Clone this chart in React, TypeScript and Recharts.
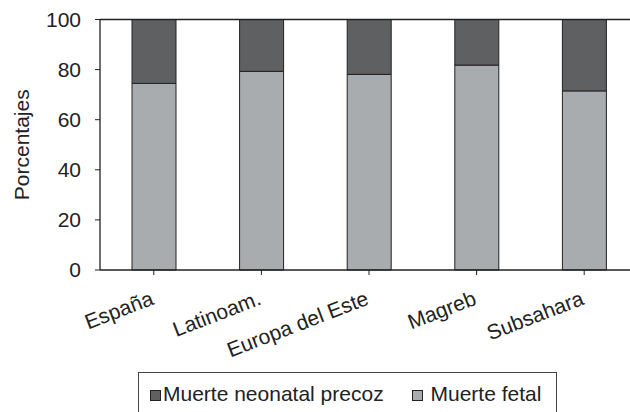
import { Bar, BarChart, Legend, ReferenceLine, XAxis, YAxis } from "recharts"

const regions = ["España", "Latinoam.", "Europa del Este", "Magreb", "Subsahara"]
const muerteFetal = [74.5, 79.3, 78.1, 81.8, 71.5]
const muerteNeonatal = [25.5, 20.7, 21.9, 18.2, 28.5]
const yTicks = [0, 20, 40, 60, 80, 100]

const data = regions.map((region, i) => ({
  region,
  fetal: muerteFetal[i],
  neonatal: muerteNeonatal[i],
}))

const font = "'Liberation Sans', Arial, sans-serif"
const ink = "#222"
const dark = "#5f6062"
const light = "#a9acaf"

// labels sit under the axis, tilted, ending at the tick
function RegionTick({ x, y, payload }: any) {
  return (
    <text
      transform={`translate(${x + 1},${y + 27}) rotate(-21)`}
      textAnchor="end"
      fill={ink}
      fontSize={21}
      fontFamily={font}
    >
      {payload.value}
    </text>
  )
}

function Swatch({ color }: { color: string }) {
  return (
    <span
      style={{
        display: "inline-block",
        boxSizing: "border-box",
        width: 11,
        height: 11,
        background: color,
        border: `1px solid ${ink}`,
        marginRight: 2,
        verticalAlign: "baseline",
      }}
    />
  )
}

function LegendBox() {
  return (
    <div
      style={{
        boxSizing: "border-box",
        width: 419,
        height: 50,
        border: "1px solid #444",
        padding: "9px 0 0 11px",
        fontFamily: font,
        fontSize: 21,
        color: ink,
        whiteSpace: "nowrap",
        lineHeight: "24px",
      }}
    >
      <Swatch color={dark} />
      Muerte neonatal precoz
      <span style={{ display: "inline-block", width: 28 }} />
      <Swatch color={light} />
      {" "}Muerte fetal
    </div>
  )
}

export default function App() {
  return (
    <div style={{ position: "absolute", left: 0, top: 0, width: 630, height: 412, overflow: "hidden", background: "#fff" }}>
      <BarChart
        width={638}
        height={412}
        data={data}
        margin={{ top: 19.5, right: 0, left: 0, bottom: 0 }}
        barSize={44}
      >
        <XAxis
          dataKey="region"
          height={102}
          interval={0}
          tick={<RegionTick />}
          tickSize={5}
          stroke={ink}
          axisLine={{ stroke: ink, strokeWidth: 1.3 }}
          tickLine={{ stroke: ink }}
        />
        <YAxis
          domain={[0, 100]}
          ticks={yTicks}
          width={100}
          tickSize={5}
          tickMargin={14}
          axisLine={{ stroke: ink, strokeWidth: 1.3 }}
          tickLine={{ stroke: ink }}
          tick={{ fill: ink, fontSize: 21, fontFamily: font }}
          label={{
            value: "Porcentajes",
            angle: -90,
            position: "insideLeft",
            offset: 22,
            style: { textAnchor: "middle", fill: ink, fontSize: 21, fontFamily: font },
          }}
        />
        <ReferenceLine y={100} stroke={ink} strokeWidth={1.3} />
        <Legend
          verticalAlign="bottom"
          content={<LegendBox />}
          wrapperStyle={{ top: 372, left: 138, width: 419, height: 40 }}
        />
        <Bar dataKey="fetal" name="Muerte fetal" stackId="a" fill={light} stroke={ink} strokeWidth={1} isAnimationActive={false} />
        <Bar dataKey="neonatal" name="Muerte neonatal precoz" stackId="a" fill={dark} stroke={ink} strokeWidth={1} isAnimationActive={false} />
      </BarChart>
    </div>
  )
}
